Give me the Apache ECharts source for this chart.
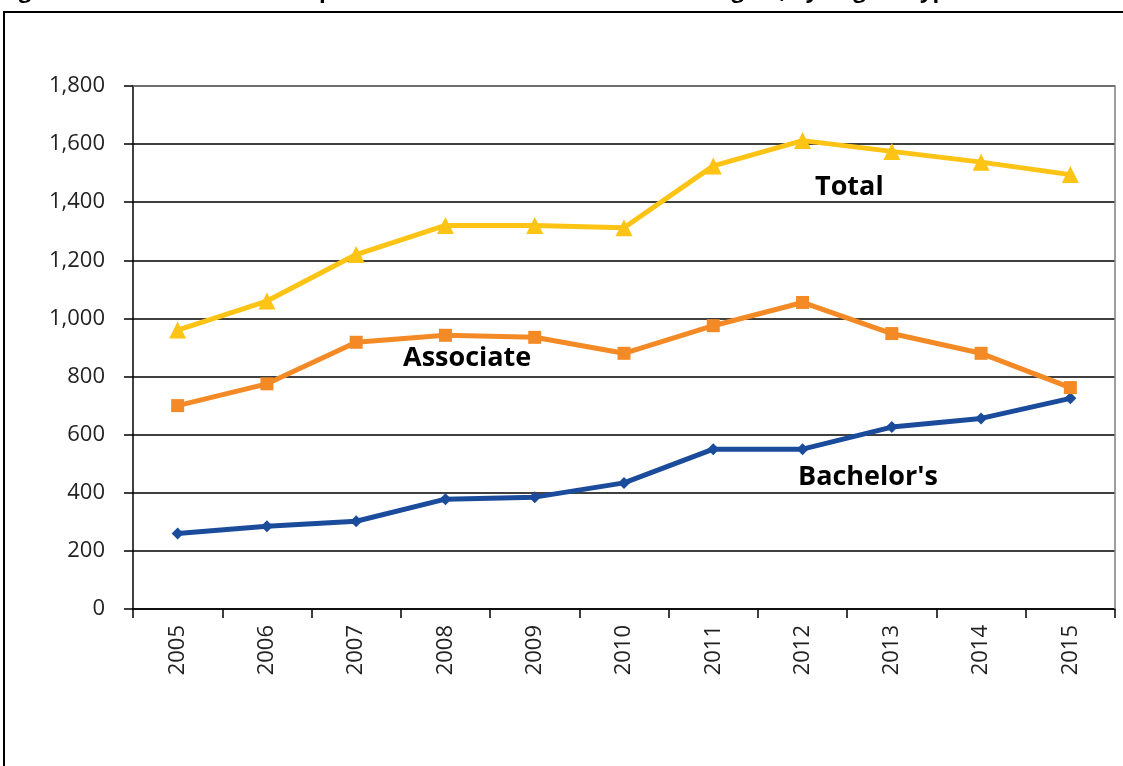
<!DOCTYPE html>
<html>
<head>
<meta charset="utf-8">
<script src="https://cdn.jsdelivr.net/npm/echarts@6/dist/echarts.min.js"></script>
<style>
  html, body { margin: 0; padding: 0; background: #fff; }
  #chart { width: 1123px; height: 766px; }
</style>
</head>
<body>
<div id="chart"></div>
<script>
const years = ['2005', '2006', '2007', '2008', '2009', '2010', '2011', '2012', '2013', '2014', '2015']
const total = [960, 1060, 1220, 1320, 1320, 1312, 1525, 1612, 1575, 1538, 1495]
const associate = [700, 775, 918, 942, 935, 880, 975, 1055, 948, 880, 762]
const bachelors = [260, 285, 302, 378, 385, 434, 550, 550, 626, 656, 725]

const FONT = '"Open Sans", "Noto Sans", sans-serif'

const chart = echarts.init(document.getElementById('chart'))

const seriesLine = (name, data, color, symbol, size) => ({
  name,
  type: 'line',
  data,
  symbol,
  symbolSize: size,
  showAllSymbol: true,
  lineStyle: { color, width: 5 },
  itemStyle: { color },
  emphasis: { disabled: true },
  z: 5
})

const gridBox = { left: 133, right: 8, top: 86, bottom: 157 }

const frame = [
  {
    type: 'rect',
    shape: { x: 4, y: 12, width: 1200, height: 800 },
    style: { fill: 'none', stroke: '#000', lineWidth: 2 },
    silent: true
  },
  {
    type: 'text',
    left: 0,
    top: -19,
    style: {
      text: 'Figure 11: Trend in Total Completions of Associate and Bachelor Degree, by Degree Type',
      font: 'bold 22px ' + FONT,
      fill: '#000'
    },
    silent: true
  },
  {
    type: 'text', left: 815, top: 174,
    style: { text: 'Total', font: 'bold 27px ' + FONT, fill: '#000' }
  },
  {
    type: 'text', left: 403, top: 345,
    style: { text: 'Associate', font: 'bold 27px ' + FONT, fill: '#000' }
  },
  {
    type: 'text', left: 798, top: 464,
    style: { text: 'Bachelor\'s', font: 'bold 27px ' + FONT, fill: '#000' }
  }
]

chart.setOption({
  animation: false,
  backgroundColor: '#fff',
  grid: Object.assign({ containLabel: false }, gridBox),
  xAxis: {
    type: 'category',
    data: years,
    boundaryGap: true,
    axisLine: { lineStyle: { color: '#000', width: 1.5 } },
    axisTick: { show: true, length: 9, inside: false, lineStyle: { color: '#000', width: 1.5 } },
    axisLabel: { rotate: 90, margin: 16, color: '#222', fontSize: 22, fontFamily: FONT }
  },
  yAxis: {
    type: 'value',
    min: 0,
    max: 1800,
    interval: 200,
    axisLine: { show: true, lineStyle: { color: '#000', width: 1.5 } },
    axisTick: { show: true, length: 9, lineStyle: { color: '#000', width: 1.5 } },
    axisLabel: {
      margin: 28,
      color: '#222',
      fontSize: 22,
      fontFamily: FONT,
      formatter: v => v.toLocaleString('en-US')
    },
    splitLine: { lineStyle: { color: '#000', width: 1.5 } }
  },
  series: [
    seriesLine('Bachelor\'s', bachelors, '#1b4c9c', 'diamond', 12),
    seriesLine('Associate', associate, '#f48a25', 'rect', 13),
    seriesLine('Total', total, '#fdc315', 'triangle', 17)
  ],
  graphic: frame
})

// gray top and right plot borders like the original
const [xl, yt] = chart.convertToPixel({ gridIndex: 0 }, [0, 1800])
const right = 1123 - gridBox.right
const bottom = 766 - gridBox.bottom
chart.setOption({
  graphic: frame.concat([
    {
      type: 'polyline',
      shape: { points: [[gridBox.left, yt], [right, yt], [right, bottom]] },
      style: { fill: 'none', stroke: '#808080', lineWidth: 1.5 },
      z: 3,
      silent: true
    }
  ])
})
</script>
</body>
</html>
